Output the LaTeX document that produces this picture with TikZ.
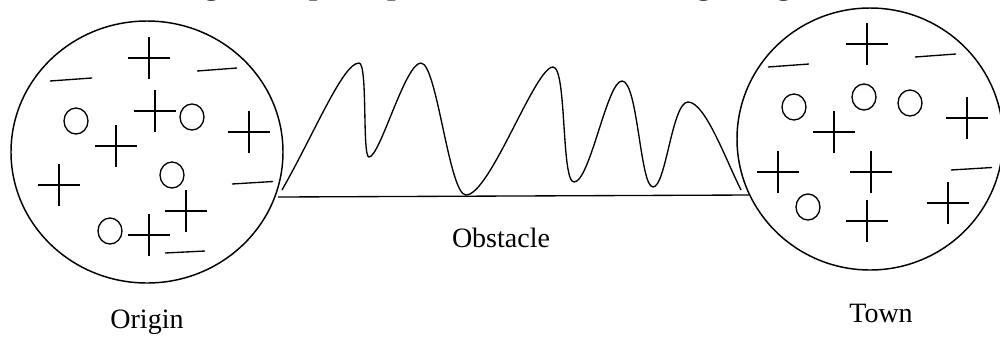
\documentclass[tikz,border=0pt]{standalone}
\usepackage{fontspec}
\setmainfont{Liberation Serif}
\usetikzlibrary{shapes.geometric}
\tikzset{
  ring/.style={line width=1.1pt},
  sym/.style={line width=1.0pt},
  lbl/.style={font=\fontsize{21}{25}\selectfont, inner sep=0pt},
  ttl/.style={font=\fontsize{23}{27}\selectfont\bfseries, inner sep=0pt},
  plus/.pic={\draw[sym] (-21,0) -- (21,0) (0,-21) -- (0,21);},
  oh/.pic={\draw[sym] (0,0) ellipse [x radius=12, y radius=13];}
}
\begin{document}
\begin{tikzpicture}[x=0.75pt,y=-0.75pt]
\path[use as bounding box] (0,0) rectangle (1000,337);
\begin{scope}
\clip (0,0) rectangle (1000,337);
\node[ttl, anchor=base west] (title) at (105,-6) {Drawing of the principle of the obstacle in migrating};
% circles
\node[ring, draw, ellipse, minimum width=272*0.75pt, minimum height=262*0.75pt, inner sep=0pt] (origin) at (147,152) {};
\node[ring, draw, ellipse, minimum width=266*0.75pt, minimum height=262*0.75pt, inner sep=0pt] (town) at (870,139) {};
\end{scope}
% obstacle base line and waves
\coordinate (b1) at (278,197);
\coordinate (b2) at (750,195);
\draw[sym] (b1) -- (b2);
\draw[sym] (282,190) .. controls (315,132) and (343,63) .. (359,63)
  .. controls (368,63) and (362,157) .. (369,157)
  .. controls (380,157) and (405,63) .. (421,63)
  .. controls (437,63) and (449,195) .. (466,195)
  .. controls (490,195) and (535,67) .. (553,67)
  .. controls (567,67) and (561,182) .. (574,182)
  .. controls (590,182) and (607,81) .. (622,81)
  .. controls (638,81) and (640,187) .. (653,187)
  .. controls (666,187) and (672,102) .. (688,102)
  .. controls (705,102) and (725,158) .. (741,190);
% left circle symbols
\foreach \p in {(149,58),(155,111),(116,146),(249,132),(59,185),(186,211),(149,235)}
  \pic at \p {plus};
\foreach \p in {(76,121),(192,117),(172,175),(110,231)}
  \pic at \p {oh};
\draw[sym] (50,81) -- (92,78);
\draw[sym] (197,71) -- (237,68);
\draw[sym] (232,184) -- (273,181.5);
\draw[sym] (165,253) -- (205,251);
% right circle symbols
\foreach \p in {(867,44),(834,132),(967,118),(778,172),(871,172),(867,221),(948,203)}
  \pic at \p {plus};
\foreach \p in {(794,107),(864,97),(910,103),(808,207)}
  \pic at \p {oh};
\draw[sym] (768,67) -- (809,64);
\draw[sym] (915,57) -- (956,54);
\draw[sym] (951,170) -- (992,167.5);
% labels
\node[lbl] (lo) at (147,322) {Origin};
\node[lbl] (lt) at (881,313) {Town};
\node[lbl] (lob) at (501,238) {Obstacle};
\end{tikzpicture}
\end{document}
